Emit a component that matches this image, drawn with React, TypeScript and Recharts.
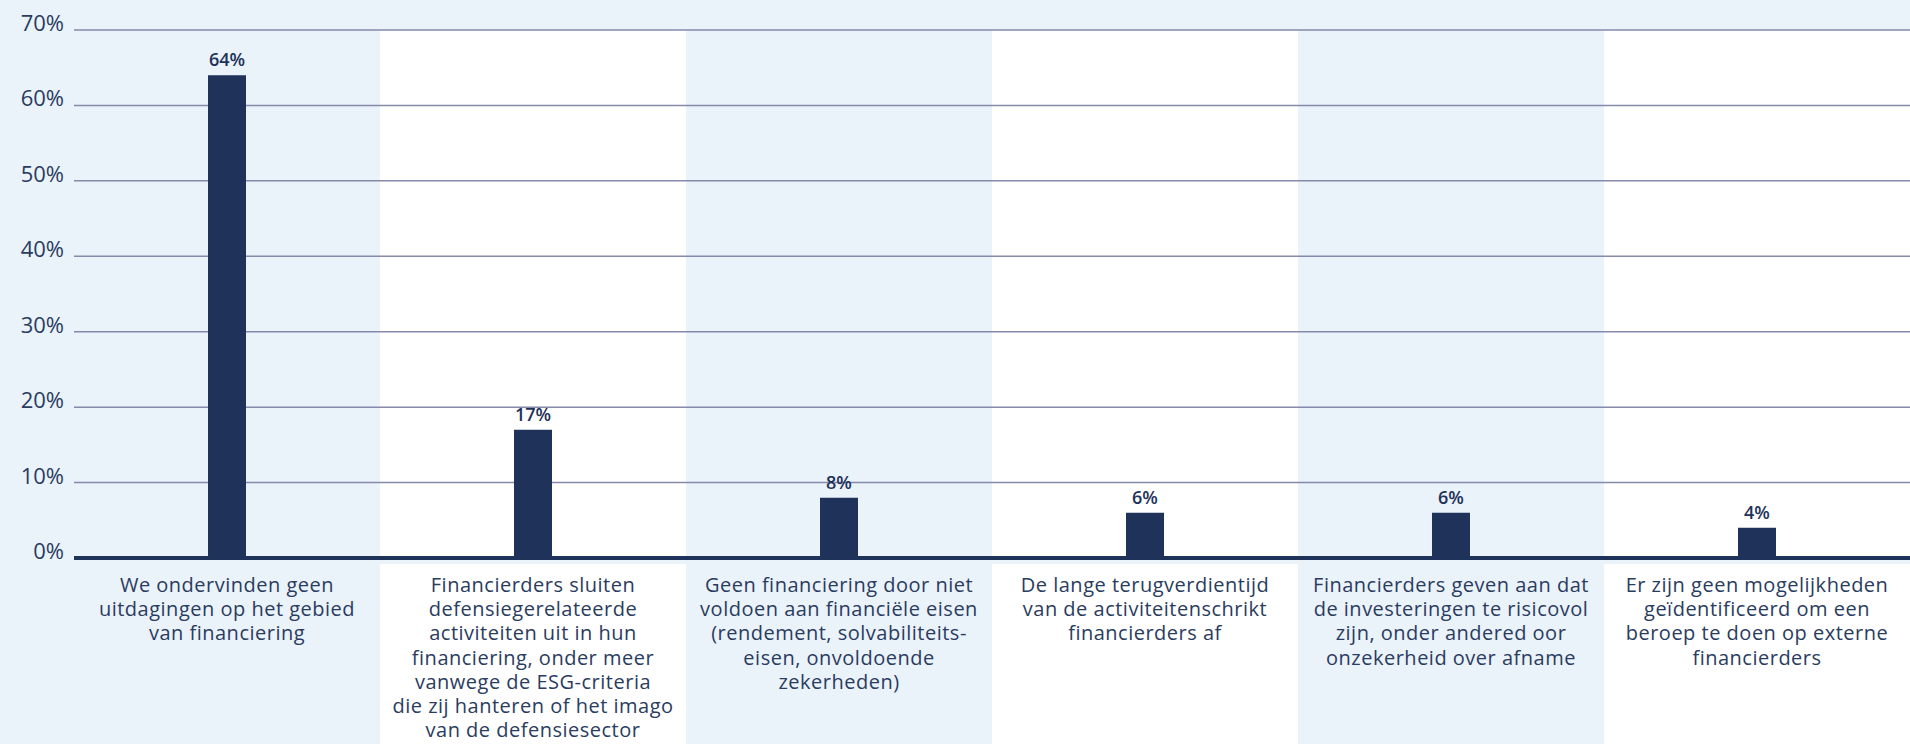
import React from 'react';
import { BarChart, Bar, XAxis, YAxis, CartesianGrid, LabelList } from 'recharts';

// categorieën (regels zoals in de bron afgebroken)
const categories = [
  'We ondervinden geen\nuitdagingen op het gebied\nvan financiering',
  'Financierders sluiten\ndefensiegerelateerde\nactiviteiten uit in hun\nfinanciering, onder meer\nvanwege de ESG-criteria\ndie zij hanteren of het imago\nvan de defensiesector',
  'Geen financiering door niet\nvoldoen aan financiële eisen\n(rendement, solvabiliteits-\neisen, onvoldoende\nzekerheden)',
  'De lange terugverdientijd\nvan de activiteitenschrikt\nfinancierders af',
  'Financierders geven aan dat\nde investeringen te risicovol\nzijn, onder andered oor\nonzekerheid over afname',
  'Er zijn geen mogelijkheden\ngeïdentificeerd om een\nberoep te doen op externe\nfinancierders',
];
// percentages
const values = [64, 17, 8, 6, 6, 4];
const yTicks = [0, 10, 20, 30, 40, 50, 60, 70];

const data = categories.map((name, i) => ({ name, value: values[i] }));

const W = 1910;
const H = 744;
const YAXIS_W = 74;
const XAXIS_H = 186;
const TOP = 30;
const BAND_W = (W - YAXIS_W) / categories.length;

const NAVY = '#1f3259';
const TEXT = '#2a3c60';
const LIGHT = '#eaf2fa';
const FONT = '"Open Sans", sans-serif';

// y-as labels
const YTick = ({ y, payload }: any) => (
  <text x={64} y={y + 1} textAnchor="end" fontSize={22} fill={TEXT} fontFamily={FONT}>
    {payload.value}%
  </text>
);

// x-as labels met witte baan eronder
const XTick = ({ x, y, payload, index }: any) => {
  const lines = String(payload.value).split('\n');
  return (
    <g>
      {index % 2 === 1 && (
        <rect x={x - BAND_W / 2} y={y - 2} width={BAND_W} height={H} fill="#ffffff" />
      )}
      <text
        x={x}
        y={y + 26}
        textAnchor="middle"
        fontSize={20}
        letterSpacing={0.5}
        fill={TEXT}
        fontFamily={FONT}
      >
        {lines.map((l, i) => (
          <tspan key={i} x={x} dy={i === 0 ? 0 : 24.2}>
            {l}
          </tspan>
        ))}
      </text>
    </g>
  );
};

export default function App() {
  return (
    <div style={{ position: 'absolute', left: 0, top: 0, width: W, height: H, background: LIGHT, overflow: 'hidden' }}>
      <BarChart width={W} height={H} data={data} margin={{ top: TOP, right: 0, left: 0, bottom: 0 }}>
        <CartesianGrid
          stroke="#858aaa"
          strokeWidth={1.5}
          vertical={(p: any) => <g key={p.key} />}
          verticalFill={[LIGHT, '#ffffff']}
          verticalCoordinatesGenerator={({ offset }: any) =>
            categories.slice(1).map((_, i) => offset.left + (offset.width * (i + 1)) / categories.length)
          }
        />
        <XAxis
          dataKey="name"
          interval={0}
          height={XAXIS_H}
          tickLine={false}
          axisLine={{ stroke: NAVY, strokeWidth: 4 }}
          tick={<XTick />}
        />
        <YAxis
          width={YAXIS_W}
          domain={[0, 70]}
          ticks={yTicks}
          axisLine={false}
          tickLine={false}
          tick={<YTick />}
        />
        <Bar dataKey="value" fill={NAVY} barSize={38} isAnimationActive={false}>
          <LabelList
            dataKey="value"
            position="top"
            offset={9}
            formatter={(v: any) => `${v}%`}
            fill={NAVY}
            fontSize={18}
            fontWeight={600}
            fontFamily={FONT}
          />
        </Bar>
      </BarChart>
    </div>
  );
}
